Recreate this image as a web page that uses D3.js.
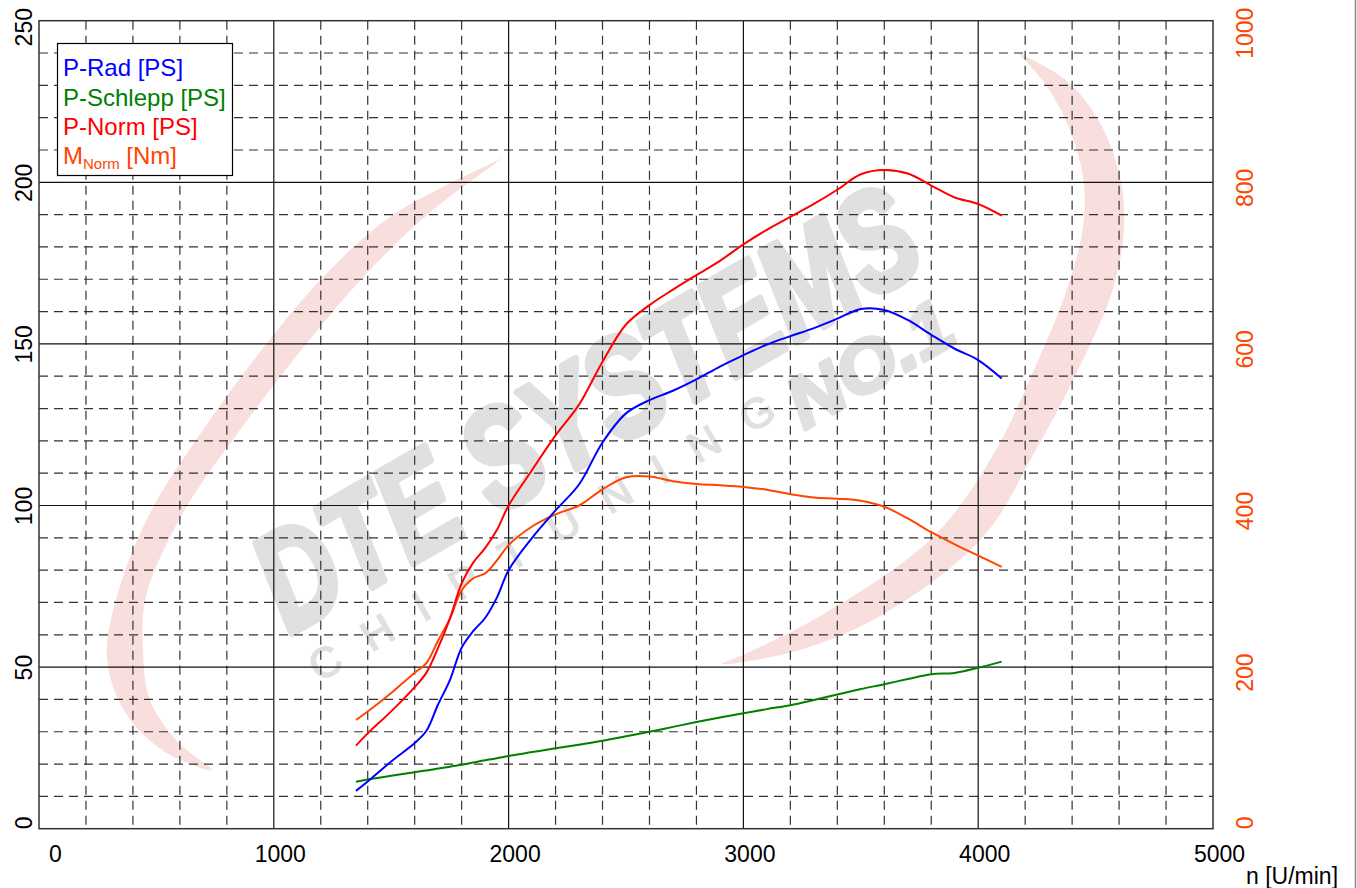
<!DOCTYPE html>
<html><head><meta charset="utf-8">
<script src="https://cdn.jsdelivr.net/npm/d3@7"></script>
<style>
body{margin:0;background:#fff}
svg{display:block}
text{font-family:"Liberation Sans",Arial,Helvetica,sans-serif}
</style>
</head><body>
<svg id="c" width="1357" height="888"></svg>
<script>
// ---------- data ----------
const rpm      = [1350,1400,1500,1600,1650,1700,1750,1800,1850,1900,1950,2000,2100,2200,2300,2400,2500,2600,2700,2800,2900,3000,3100,3200,3300,3400,3500,3600,3700,3800,3900,4000,4100];
const pRad     = [11.7,14.6,20.8,26.5,30.3,38.5,46.0,56.0,61.2,65.2,71.5,80.0,90.0,98.5,106.5,119.5,128.5,132.6,135.5,139.0,143.0,146.5,149.8,152.4,154.9,157.8,160.8,160.5,157.4,152.8,148.5,145.0,139.3];
const pSchlepp = [14.5,15.2,16.4,17.5,18.0,18.6,19.2,19.8,20.5,21.2,21.8,22.5,23.7,24.9,26.0,27.2,28.6,30.0,31.5,33.0,34.4,35.7,37.0,38.2,39.8,41.5,43.2,44.7,46.3,47.8,48.2,49.8,51.7];
const pNorm    = [25.7,29.5,36.3,43.8,48.3,56.0,65.0,75.9,82.4,86.8,92.4,100.0,111.0,121.7,131.2,144.5,156.0,162.0,166.8,171.3,175.7,180.8,185.3,189.3,193.3,197.7,202.5,203.8,202.7,199.0,195.3,193.3,189.7];
const mNorm    = [134.5,145,168,193,205,233,260,295,310,316,332,351,374,389,400,420,435,436,430,426.5,425,423,419.5,414,410,408.5,406,398.5,384,367,352,338,324];

const xTicks      = [0,1000,2000,3000,4000,5000];
const yLeftTicks  = [0,50,100,150,200,250];
const yRightTicks = [0,200,400,600,800,1000];
const xLabel = "n [U/min]";

const seriesNames  = ["P-Rad [PS]","P-Schlepp [PS]","P-Norm [PS]","M|Norm| [Nm]"];
const seriesColors = ["#0000ff","#008000","#ff0000","#ff4500"];

// ---------- layout ----------
const W = 1357, H = 888;
const L = 39, R = 1213, T = 20.7, B = 828.7;
const svg = d3.select("#c");

const x  = d3.scaleLinear().domain([0,5000]).range([L,R]);
const yL = d3.scaleLinear().domain([0,250]).range([B,T]);
const yR = d3.scaleLinear().domain([0,1000]).range([B,T]);

svg.append("rect").attr("width",W).attr("height",H).attr("fill","#fff");

// ---------- watermark ----------
const wm = svg.append("g").attr("class","watermark");
const crescent = d3.line().curve(d3.curveCatmullRom.alpha(0.5));
const leftArc = [[503,158],[393,215],[327,273],[267,343],[203,430],[150,513],[117,596],[107,658],[125,712],[165,752],[212,770],
                 [178,742],[150,700],[143,650],[146,596],[183,513],[240,430],[307,343],[367,273],[427,215],[503,158]];
const rightArc = [[1017,52],[1067,81],[1100,123],[1120,177],[1124,227],[1113,289],[1077,372],[1033,455],[983,537],[887,612],[800,650],[722,664],
                  [745,654],[827,612],[933,537],[993,455],[1033,372],[1067,289],[1083,227],[1083,177],[1067,123],[1043,81],[1017,52]];
wm.append("path").attr("d",crescent(leftArc)+"Z").attr("fill","#f9dede");
wm.append("path").attr("d",crescent(rightArc)+"Z").attr("fill","#f9dede");

const wt = wm.append("g").attr("transform","translate(610,450) rotate(-30)").attr("fill","#e0e0e0");
wt.append("text").text("DTE SYSTEMS").attr("x",0).attr("y",0).attr("text-anchor","middle")
  .attr("font-size",140).attr("font-weight","bold").attr("font-style","italic")
  .attr("stroke","#e0e0e0").attr("stroke-width",7).attr("stroke-linejoin","round")
  .attr("textLength",740).attr("lengthAdjust","spacingAndGlyphs");
wt.append("text").text("CHIPTUNING").attr("x",-368).attr("y",56)
  .attr("font-size",42).attr("stroke","#e0e0e0").attr("stroke-width",1.5)
  .attr("textLength",530).attr("lengthAdjust","spacing");
wt.append("text").text("NO.1").attr("x",178).attr("y",80)
  .attr("font-size",72).attr("font-weight","bold").attr("font-style","italic")
  .attr("stroke","#e0e0e0").attr("stroke-width",4).attr("stroke-linejoin","round")
  .attr("textLength",180).attr("lengthAdjust","spacingAndGlyphs");

// ---------- grid ----------
const grid = svg.append("g").attr("class","grid");
const minorX = d3.range(200,5000,200).filter(v=>v%1000!==0);
const majorX = [1000,2000,3000,4000];
const minorY = d3.range(10,250,10).filter(v=>v%50!==0);
const majorY = [50,100,150,200];

grid.selectAll(".mx").data(minorX).join("line")
  .attr("x1",d=>x(d)).attr("x2",d=>x(d)).attr("y1",T).attr("y2",B)
  .attr("stroke","#333").attr("stroke-width",1.2).attr("stroke-dasharray","9,6");
grid.selectAll(".my").data(minorY).join("line")
  .attr("y1",d=>yL(d)).attr("y2",d=>yL(d)).attr("x1",L).attr("x2",R)
  .attr("stroke","#333").attr("stroke-width",1.2).attr("stroke-dasharray","9,6");
grid.selectAll(".Mx").data(majorX).join("line")
  .attr("x1",d=>x(d)).attr("x2",d=>x(d)).attr("y1",T).attr("y2",B)
  .attr("stroke","#111").attr("stroke-width",1.2);
grid.selectAll(".My").data(majorY).join("line")
  .attr("y1",d=>yL(d)).attr("y2",d=>yL(d)).attr("x1",L).attr("x2",R)
  .attr("stroke","#111").attr("stroke-width",1.2);
svg.append("rect").attr("x",L).attr("y",T).attr("width",R-L).attr("height",B-T)
  .attr("fill","none").attr("stroke","#333").attr("stroke-width",1.5);

// ---------- curves ----------
const lineL = d3.line().x((d,i)=>x(rpm[i])).y(d=>yL(d)).curve(d3.curveCatmullRom.alpha(0.5));
const lineR = d3.line().x((d,i)=>x(rpm[i])).y(d=>yR(d)).curve(d3.curveCatmullRom.alpha(0.5));
const curves = svg.append("g").attr("fill","none").attr("stroke-width",2).attr("stroke-linejoin","round");
curves.append("path").attr("d",lineL(pSchlepp)).attr("stroke",seriesColors[1]);
curves.append("path").attr("d",lineR(mNorm)).attr("stroke",seriesColors[3]);
curves.append("path").attr("d",lineL(pRad)).attr("stroke",seriesColors[0]);
curves.append("path").attr("d",lineL(pNorm)).attr("stroke",seriesColors[2]);

// ---------- axes ----------
const gx = svg.append("g").attr("transform",`translate(0,${B})`)
  .call(d3.axisBottom(x).tickValues(xTicks).tickSize(0).tickFormat(d3.format("d")));
gx.select(".domain").remove();
gx.attr("font-family",null).attr("font-size",null);
gx.selectAll("text").attr("y",33).attr("dy",0).attr("dx",d=>d===0?16:6)
  .attr("fill","#000").style("font-size","23px");

const gyl = svg.append("g")
  .call(d3.axisLeft(yL).tickValues(yLeftTicks).tickSize(0).tickFormat(d3.format("d")));
gyl.select(".domain").remove();
gyl.attr("font-family",null).attr("font-size",null);
gyl.selectAll("text").attr("x",0).attr("y",0).attr("dy",0)
  .attr("transform","translate(32,0) rotate(-90)")
  .attr("text-anchor",d=>d===0?"start":"middle")
  .attr("dx",d=>d===250?-6:0)
  .attr("fill","#000").style("font-size","23px");

const gyr = svg.append("g")
  .call(d3.axisRight(yR).tickValues(yRightTicks).tickSize(0).tickFormat(d3.format("d")));
gyr.select(".domain").remove();
gyr.attr("font-family",null).attr("font-size",null);
gyr.selectAll("text").attr("x",0).attr("y",0).attr("dy",0)
  .attr("transform","translate(1253,0) rotate(-90)")
  .attr("text-anchor",d=>d===0?"start":"middle")
  .attr("dx",d=>d===1000?-12:(d===0?0:-5))
  .attr("fill",seriesColors[3]).style("font-size","23px");

svg.append("text").text(xLabel).attr("x",1246).attr("y",884).style("font-size","23px").attr("fill","#000");

// ---------- legend ----------
const lg = svg.append("g");
lg.append("rect").attr("x",57.5).attr("y",43.5).attr("width",175).attr("height",132)
  .attr("fill","#fff").attr("stroke","#000").attr("stroke-width",1.2);
const lgBase = [76,105.5,135,164];
seriesNames.forEach((name,i)=>{
  const t = lg.append("text").attr("x",63).attr("y",lgBase[i]).attr("fill",seriesColors[i])
    .style("font-size","24px").style("white-space","pre");
  const parts = name.split("|");
  if(parts.length===1){ t.text(name); }
  else{
    t.append("tspan").text(parts[0]);
    t.append("tspan").text(parts[1]).style("font-size","15px").attr("dy",5);
    t.append("tspan").text(parts[2]).attr("dy",-5);
  }
});

// right frame line
svg.append("line").attr("x1",1355.5).attr("x2",1355.5).attr("y1",0).attr("y2",H)
  .attr("stroke","#888").attr("stroke-width",1.5);
</script>
</body></html>
